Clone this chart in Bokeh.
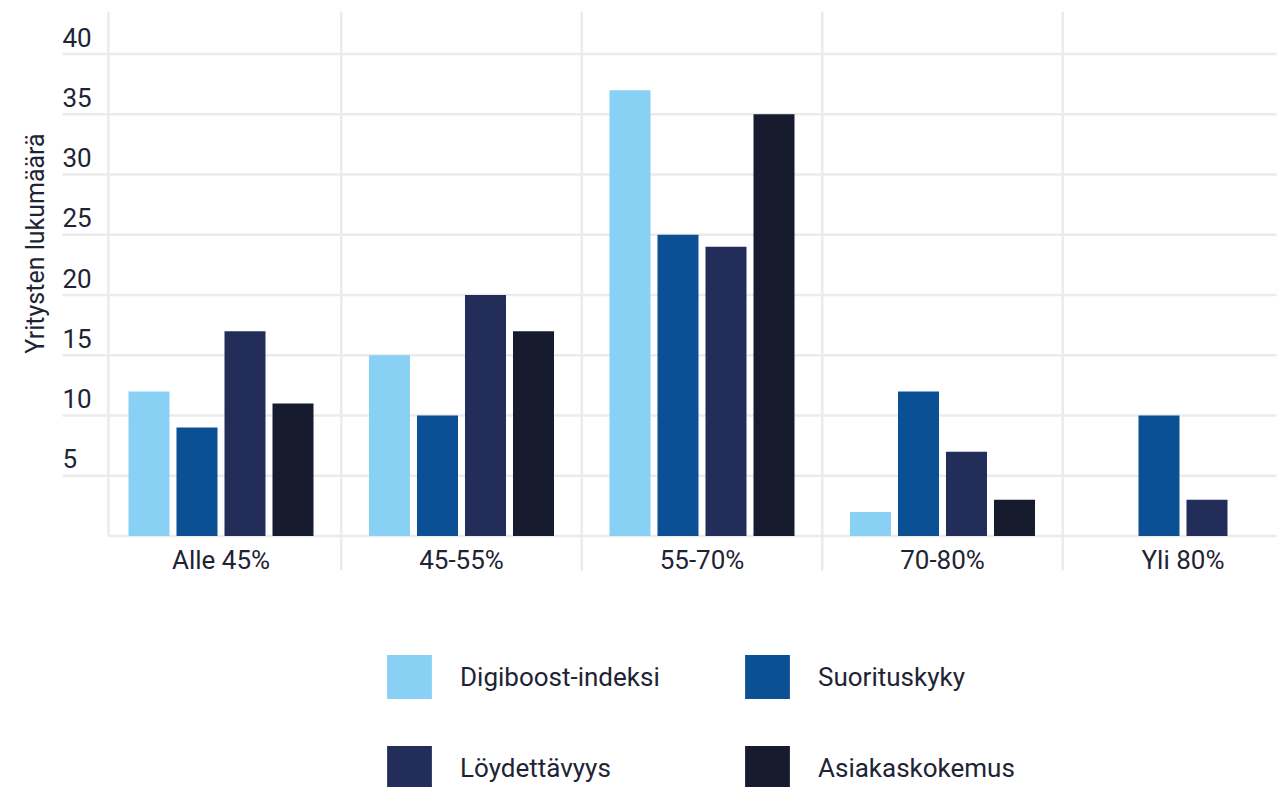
import math

from bokeh.core.properties import value
from bokeh.embed import file_html
from bokeh.models import Label, Legend, LegendItem, Range1d
from bokeh.plotting import figure
from bokeh.resources import INLINE

# --- data -------------------------------------------------------------------
categories = ["Alle 45%", "45-55%", "55-70%", "70-80%", "Yli 80%"]
series_names = ["Digiboost-indeksi", "Suorituskyky", "Löydettävyys", "Asiakaskokemus"]
NA = float("nan")
digiboost = [12, 15, 37, 2, NA]
suorituskyky = [9, 10, 25, 12, 10]
loydettavyys = [17, 20, 24, 7, 3]
asiakaskokemus = [11, 17, 35, 3, NA]
y_ticks = [5, 10, 15, 20, 25, 30, 35, 40]
y_title = "Yritysten lukumäärä"

# --- style ------------------------------------------------------------------
colors = ["#89D1F4", "#0B4F94", "#222E59", "#161B2E"]
TEXT = "#1E2434"
GRID = "#EBEBEB"
FONT = "Roboto"
W, H = 1283, 787
# the plotting area covers the whole canvas; the chart body sits inside it
X_START, X_END = -0.9168, 4.4179
Y_START, Y_END = -20.87, 44.44
GRID_X0, GRID_X1 = -0.659, 4.389   # horizontal extent of the grid lines
AXIS_X = -0.468                    # left edge of the bar area
SEP_Y0, SEP_Y1 = -2.863, 43.53     # vertical extent of the category separators
BAR_W = 0.1705
SLOT = 0.1996

p = figure(
    frame_width=W, frame_height=H, min_border=0,
    x_range=Range1d(X_START, X_END), y_range=Range1d(Y_START, Y_END),
    x_axis_location=None, y_axis_location=None,
    output_backend="svg", toolbar_location=None,
    outline_line_color=None, background_fill_color="white", border_fill_color="white",
)
for g in p.grid:
    g.visible = False

# horizontal grid lines, reaching out under the value labels
p.segment(x0=[GRID_X0] * len(y_ticks), y0=y_ticks, x1=[GRID_X1] * len(y_ticks), y1=y_ticks,
          line_color=GRID, line_width=2.5)
# vertical separators between the categories
seps = [i + 0.5 for i in range(len(categories) - 1)]
p.segment(x0=seps, y0=[SEP_Y0] * len(seps), x1=seps, y1=[SEP_Y1] * len(seps),
          line_color=GRID, line_width=2.5)
# baseline and left edge of the bar area
p.segment(x0=[AXIS_X, AXIS_X], y0=[0, 0], x1=[GRID_X1, AXIS_X], y1=[0, SEP_Y1],
          line_color=GRID, line_width=2.5)

# bars
all_series = [digiboost, suorituskyky, loydettavyys, asiakaskokemus]
renderers = []
n = len(all_series)
for k, (vals, col) in enumerate(zip(all_series, colors)):
    offset = (k - (n - 1) / 2) * SLOT
    xs = [i + offset for i in range(len(categories))]
    r = p.vbar(x=xs, top=vals, bottom=0, width=BAR_W, fill_color=col, line_color=None)
    renderers.append(r)

# category labels
p.text(x=list(range(len(categories))), y=[0] * len(categories), text=categories,
       text_align="center", text_baseline="alphabetic", y_offset=24,
       text_font=value(FONT), text_font_size="26px", text_color=TEXT)

# value labels sitting above their grid lines
p.text(x=[GRID_X0] * len(y_ticks), y=y_ticks, text=[str(t) for t in y_ticks],
       text_align="left", text_baseline="alphabetic", y_offset=-17,
       text_font=value(FONT), text_font_size="26px", text_color=TEXT)

# axis title
p.add_layout(Label(x=-0.7714, y=24.27, text=y_title, angle=math.pi / 2,
                   text_align="center", text_baseline="alphabetic",
                   text_font=FONT, text_font_size="25px", text_color=TEXT))

# legend: 2 x 2 grid of square swatches below the chart
legend = Legend(
    items=[LegendItem(label=nm, renderers=[r]) for nm, r in zip(series_names, renderers)],
    ncols=2, orientation="horizontal",
    glyph_width=56, glyph_height=55, label_standoff=23, spacing=36, label_width=243,
    padding=0, margin=0, border_line_color=None, background_fill_alpha=0,
    label_text_font=FONT, label_text_font_size="26px", label_text_color=TEXT,
    location=(381, -8),
)
p.add_layout(legend, "center")

open("out.html", "w").write(file_html(p, INLINE))
